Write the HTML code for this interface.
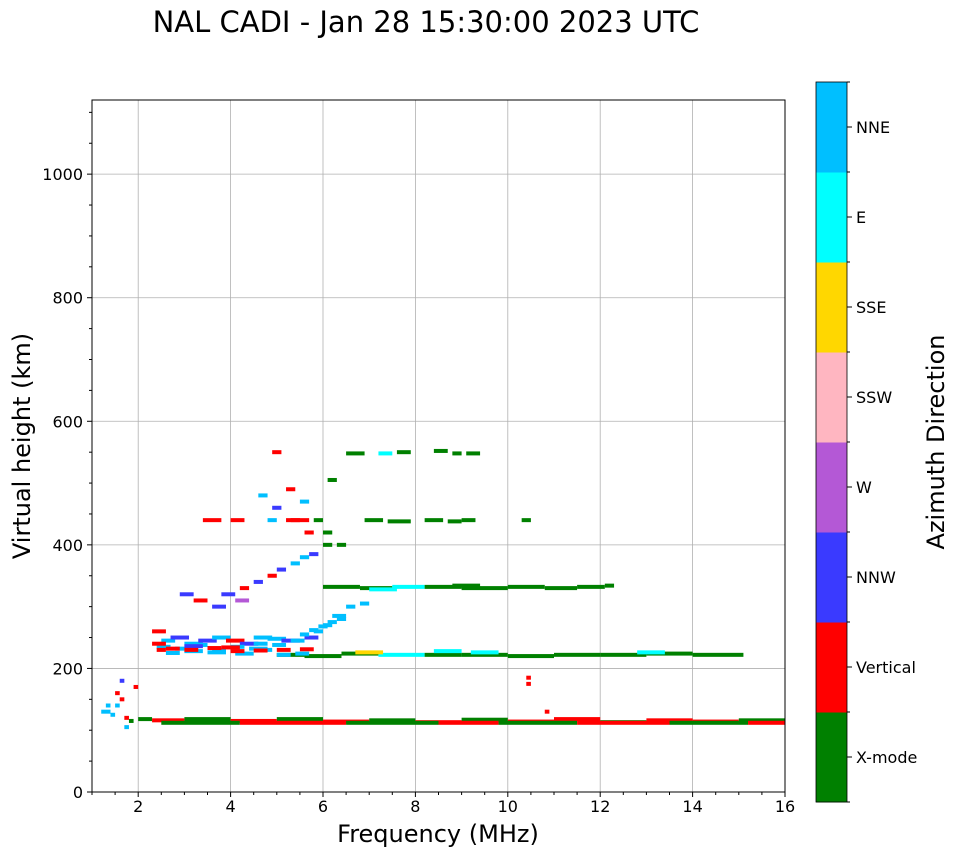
<!DOCTYPE html>
<html><head><meta charset="utf-8">
<style>
html,body{margin:0;padding:0;background:#fff;}
svg text{font-family:"DejaVu Sans","Liberation Sans",sans-serif;fill:#000;}
</style></head>
<body>
<svg id="chart" width="958" height="857" viewBox="0 0 958 857" xmlns="http://www.w3.org/2000/svg">
<text x="426" y="32" font-size="29" text-anchor="middle">NAL CADI - Jan 28 15:30:00 2023 UTC</text>
<g id="grid"></g>
<g id="marks"></g>
<rect x="92" y="100" width="693" height="692" fill="none" stroke="#000" stroke-width="1"/>
<g id="axes"></g>
<text x="438" y="842" font-size="24" text-anchor="middle">Frequency (MHz)</text>
<text transform="translate(30,446) rotate(-90)" font-size="24" text-anchor="middle">Virtual height (km)</text>
<g id="cbar"></g>
<text transform="translate(944,442) rotate(-90)" font-size="24" text-anchor="middle">Azimuth Direction</text>
</svg>
<script>
const xTicks=[2,4,6,8,10,12,14,16];
const yTicks=[0,200,400,600,800,1000];
const modeNames=["X-mode","Vertical","NNW","W","SSW","SSE","E","NNE"];
const modeColors=["#008000","#ff0000","#3a3aff","#b458d6","#ffb6c1","#ffd700","#00ffff","#00bfff"];
// echo segments: start freq, end freq (MHz), virtual height (km), mode index
const fStart=[2.0,2.3,3.0,4.0,5.0,6.0,7.0,8.0,9.0,10.0,11.0,12.0,13.0,14.0,15.0,2.5,4.2,6.5,8.5,9.8,11.5,13.5,15.2,
 5.0,5.6,6.4,7.2,8.2,9.0,10.0,11.0,12.0,13.0,14.0,6.7,8.4,9.2,12.8,
 6.0,6.8,7.5,8.2,9.0,10.0,10.8,11.5,12.1,7.0,8.8,
 6.9,7.4,8.2,8.7,9.0,3.4,4.0,4.8,5.2,10.3,
 6.5,7.2,7.6,8.4,8.8,9.1,6.1,
 2.3,2.5,2.7,3.0,3.3,3.6,3.9,4.2,4.5,4.8,5.1,2.4,2.8,3.2,3.6,4.0,4.4,4.9,5.3,5.6,2.6,3.0,3.5,4.1,4.6,5.0,5.4,2.3,3.0,3.8,4.5,
 5.8,6.0,6.2,6.5,6.8,5.5,5.7,5.9,6.1,6.3,4.2,4.5,4.8,5.0,5.3,5.5,5.7,3.8,4.1,2.9,3.2,3.6,
 2.4,2.6,3.0,3.5,4.0,4.5,5.0,5.5,
 1.2,1.4,1.5,1.6,1.7,1.8,1.5,1.3,1.6,1.9,1.7,10.8,10.4,10.4,
 4.9,5.2,5.5,5.8,6.0,6.3,4.6,4.9,5.3,5.6,6.0];
const fEnd=[2.3,3.0,4.0,5.0,6.0,7.0,8.0,9.0,10.0,11.0,12.0,13.0,14.0,15.0,16.0,4.2,6.5,8.5,9.8,11.5,13.5,15.2,16.0,
 5.6,6.4,7.2,8.2,9.0,10.0,11.0,12.0,13.0,14.0,15.1,7.3,9.0,9.8,13.4,
 6.8,7.5,8.2,9.0,10.0,10.8,11.5,12.1,12.3,7.6,9.4,
 7.3,7.9,8.6,9.0,9.3,3.8,4.3,5.0,5.7,10.5,
 6.9,7.5,7.9,8.7,9.0,9.4,6.3,
 2.6,2.8,3.1,3.4,3.7,4.0,4.3,4.6,4.9,5.2,5.5,2.7,3.1,3.5,3.9,4.3,4.8,5.2,5.6,5.9,2.9,3.4,3.9,4.5,4.9,5.3,5.7,2.6,3.4,4.2,4.8,
 6.0,6.2,6.5,6.7,7.0,5.7,5.9,6.1,6.3,6.5,4.4,4.7,5.0,5.2,5.5,5.7,5.9,4.1,4.4,3.2,3.5,3.9,
 2.6,2.9,3.3,3.8,4.3,4.8,5.3,5.8,
 1.4,1.5,1.6,1.7,1.8,1.9,1.6,1.4,1.7,2.0,1.8,10.9,10.5,10.5,
 5.1,5.4,5.7,6.0,6.2,6.5,4.8,5.1,5.5,5.8,6.2];
const hKm=[118,116,118,115,118,114,116,113,117,114,118,113,116,114,116,112,112,112,112,112,112,112,112,
 222,220,224,222,222,222,220,222,222,224,222,226,228,226,226,
 332,330,332,332,330,332,330,332,334,328,334,
 440,438,440,438,440,440,440,440,440,440,
 548,548,550,552,548,548,505,
 260,245,250,240,245,250,245,240,250,248,245,235,232,238,230,235,232,238,245,250,225,228,226,224,230,222,224,240,236,234,240,
 260,270,285,300,305,255,262,268,275,280,330,340,350,360,370,380,385,320,310,320,310,300,
 230,232,230,233,228,229,230,231,
 130,125,140,150,120,115,160,140,180,170,105,130,175,185,
 550,490,470,440,420,400,480,460,440,420,400];
const mode=[0,1,0,1,0,1,0,1,0,1,1,0,1,1,0,0,1,0,1,0,1,0,1,
 0,0,0,6,0,0,0,0,0,0,0,5,6,6,6,
 0,0,6,0,0,0,0,0,0,6,0,
 0,0,0,0,0,1,1,7,1,0,
 0,6,0,0,0,0,0,
 1,7,2,7,2,7,1,2,7,7,2,7,7,7,7,7,7,7,7,2,7,7,7,7,7,7,7,1,2,1,7,
 7,7,7,7,7,7,7,7,7,7,1,2,1,2,7,7,2,2,3,2,1,2,
 1,1,1,1,1,1,1,1,
 7,7,7,1,1,0,1,7,2,1,7,1,1,1,
 1,1,7,0,0,0,7,2,1,1,0];

const X0=92,X1=785,Y0=792,Y1=100,FMIN=1,FMAX=16,HMIN=0,HMAX=1120;
const xs=f=>X0+(f-FMIN)/(FMAX-FMIN)*(X1-X0);
const ys=h=>Y0-(h-HMIN)/(HMAX-HMIN)*(Y0-Y1);
const NS="http://www.w3.org/2000/svg";
function mk(tag,attrs,parent){const e=document.createElementNS(NS,tag);for(const k in attrs)e.setAttribute(k,attrs[k]);parent.appendChild(e);return e;}
const grid=document.getElementById('grid'),axes=document.getElementById('axes'),marks=document.getElementById('marks'),cbar=document.getElementById('cbar');
xTicks.forEach(t=>{const x=xs(t);
 if(t<FMAX){const g=mk('line',{x1:x,x2:x,y1:Y1,y2:Y0,stroke:'#b0b0b0','stroke-width':0.8},grid);
 
 }
 mk('line',{x1:x,x2:x,y1:Y0,y2:Y0+5,stroke:'#000'},axes);
 const tx=mk('text',{x:x,y:Y0+20,'font-size':16,'text-anchor':'middle'},axes);tx.textContent=t;
 
 
});
for(let f=1;f<=16;f+=0.5){if(!xTicks.includes(f))mk('line',{x1:xs(f),x2:xs(f),y1:Y0,y2:Y0+3,stroke:'#000'},axes);}
yTicks.forEach(t=>{const y=ys(t);
 if(t>0){const g=mk('line',{x1:X0,x2:X1,y1:y,y2:y,stroke:'#b0b0b0','stroke-width':0.8},grid);
 
 }
 mk('line',{x1:X0-5,x2:X0,y1:y,y2:y,stroke:'#000'},axes);
 const tx=mk('text',{x:X0-9,y:y+6,'font-size':16,'text-anchor':'end'},axes);tx.textContent=t;
 
 
});
for(let h=50;h<=1100;h+=50){if(h%200)mk('line',{x1:X0-3,x2:X0,y1:ys(h),y2:ys(h),stroke:'#000'},axes);}
for(let i=0;i<fStart.length;i++){
 const r=mk('rect',{x:xs(fStart[i]),y:ys(hKm[i])-2,width:Math.max(2,xs(fEnd[i])-xs(fStart[i])),height:4,fill:modeColors[mode[i]]},marks);
 
 
}
const CX=816,CW=31,CT=82,CB=802,bh=(CB-CT)/modeNames.length;
modeNames.forEach((n,i)=>{const y=CB-(i+1)*bh;
 const r=mk('rect',{x:CX,y:y,width:CW,height:bh+0.5,fill:modeColors[i]},cbar);
 
 
 mk('line',{x1:CX+CW,x2:CX+CW+5,y1:y+bh/2,y2:y+bh/2,stroke:'#000'},cbar);
 const t=mk('text',{x:CX+CW+9,y:y+bh/2+6,'font-size':16},cbar);t.textContent=n;
 
 
});
for(let i=0;i<=modeNames.length;i++){mk('line',{x1:CX+CW,x2:CX+CW+3,y1:CT+i*bh,y2:CT+i*bh,stroke:'#000'},cbar);}
mk('rect',{x:CX,y:CT,width:CW,height:CB-CT,fill:'none',stroke:'#000','stroke-width':0.8},cbar);
</script>
</body></html>
